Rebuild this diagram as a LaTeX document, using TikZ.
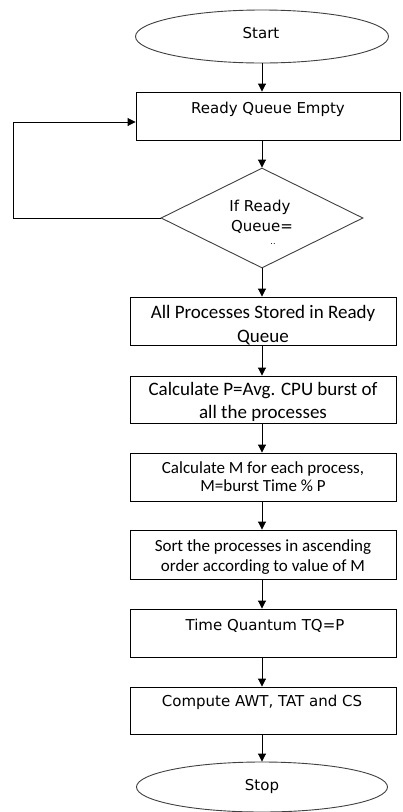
\documentclass[tikz,border=0pt]{standalone}
\usepackage{fontspec}
\setmainfont{DejaVu Sans}
\newfontfamily\calib{Carlito}
\usetikzlibrary{shapes.geometric,arrows.meta}
\begin{document}
\begin{tikzpicture}[x=1pt,y=-1pt,
 box/.style={draw,line width=0.9pt,minimum width=266pt,minimum height=48pt,inner sep=0pt},
 oval/.style={draw=black!75,ellipse,line width=0.9pt,inner sep=0pt},
 dec/.style={draw=black!75,diamond,line width=0.9pt,minimum width=202pt,minimum height=100pt,inner sep=0pt,aspect=2.02},
 txt/.style={inner sep=0pt,align=center,font=\fontsize{15}{18}\selectfont},
 ctxtA/.style={inner sep=0pt,align=center,font=\calib\fontsize{19}{24}\selectfont},
 ctxtB/.style={inner sep=0pt,align=center,font=\calib\fontsize{17}{18}\selectfont},
 arr/.style={line width=0.9pt,-{Triangle[width=8pt,length=8pt]}}
]
\useasboundingbox (0,0) rectangle (402,812);
\fill[white] (0,0) rectangle (402,812);

\node[oval,minimum width=253pt,minimum height=53pt] (start) at (262,36.5) {};
\node[txt] (tstart) at (261,33) {Start};

\node[box,minimum width=264pt] (b1) at (268,116) {};
\node[txt] (t1) at (268,109) {Ready Queue Empty};

\node[dec] (d) at (262,218) {};
\node[txt] (td1) at (260,207) {If Ready};
\node[txt] (td2) at (262,227) {Queue=};
\node[inner sep=0pt,font=\fontsize{8}{8}\selectfont] (td3) at (273,244) {..};

\node[box] (b2) at (263,321) {};
\node[ctxtA] (t2) at (263,325) {All Processes Stored in Ready\\Queue};

\node[box,minimum height=47pt] (b3) at (263,399.5) {};
\node[ctxtA,font=\calib\fontsize{19}{23}\selectfont] (t3) at (263,401.5) {Calculate P=Avg. CPU burst of\\all the processes};

\node[box] (b4) at (263,477) {};
\node[ctxtB,font=\calib\fontsize{17}{17.5}\selectfont] (t4) at (263,476.5) {Calculate M for each process,\\M=burst Time \% P};

\node[box,minimum height=49pt] (b5) at (263,554.5) {};
\node[ctxtB,font=\calib\fontsize{17}{20}\selectfont] (t5) at (263,557) {Sort the processes in ascending\\order according to value of M};

\node[box] (b6) at (263,633) {};
\node[txt] (t6) at (265,626) {Time Quantum TQ=P};

\node[box,minimum height=47pt] (b7) at (263,710.5) {};
\node[txt] (t7) at (262,702) {Compute AWT, TAT and CS};

\node[oval,minimum width=251pt,minimum height=50pt] (stop) at (262,787) {};
\node[txt] (tstop) at (262,786) {Stop};

\draw[arr] (start.south) -- (start.south |- b1.north);
\draw[arr] (b1.south -| d.north) -- (d.north);
\draw[arr] (d.south) -- (d.south |- b2.north);
\draw[arr] (b2.south -| d.south) -- (b3.north -| d.south);
\draw[arr] (b3.south -| d.south) -- (b4.north -| d.south);
\draw[arr] (b4.south -| d.south) -- (b5.north -| d.south);
\draw[arr] (b5.south -| d.south) -- (b6.north -| d.south);
\draw[arr] (b6.south -| d.south) -- (b7.north -| d.south);
\draw[arr] (b7.south -| d.south) -- (stop.north -| d.south);
\coordinate (fb) at (13,122);
\draw[arr] (d.west) -| (fb) -- (fb -| b1.west);
\end{tikzpicture}
\end{document}
